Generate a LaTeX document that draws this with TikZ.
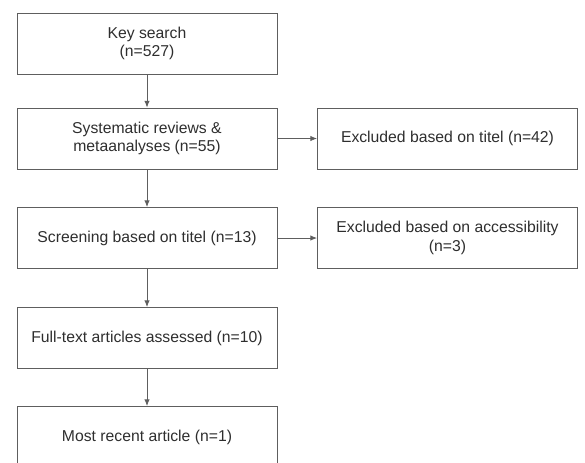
\documentclass[tikz,border=0pt]{standalone}
\usepackage{fontspec}
\setmainfont{Liberation Sans}
\usetikzlibrary{arrows.meta}
\definecolor{boxline}{HTML}{5E5E5E}
\definecolor{boxtext}{HTML}{2E2E2E}

\begin{document}
\begin{tikzpicture}[x=0.75pt,y=-0.75pt,
  box/.style={draw=boxline, line width=0.65pt, text=boxtext, align=center,
    minimum width=195pt, minimum height=45.75pt, inner sep=0pt,
    font=\fontsize{11.8}{14}\selectfont},
  arr/.style={draw=boxline, line width=0.65pt, -{Latex[length=5pt,width=4pt]}}]
  \clip (0,0) rectangle (585,462);

  % main column
  \node[box] (search) at (147,43.5) {Key search\\(n=527)};
  \node[box] (reviews) at (147,138.5) {Systematic reviews \&\\metaanalyses (n=55)};
  \node[box] (screen) at (147,238) {Screening based on titel (n=13)};
  \node[box] (fulltext) at (147,338) {Full-text articles assessed (n=10)};
  \node[box] (recent) at (147,437) {Most recent article (n=1)};

  % exclusions
  \node[box] (extitel) at (447.5,138.5) {Excluded based on titel (n=42)};
  \node[box] (exaccess) at (447.5,238) {Excluded based on accessibility\\(n=3)};

  \draw[arr] (search) -- (reviews);
  \draw[arr] (reviews) -- (screen);
  \draw[arr] (screen) -- (fulltext);
  \draw[arr] (fulltext) -- (recent);
  \draw[arr] (reviews) -- (extitel);
  \draw[arr] (screen) -- (exaccess);
\end{tikzpicture}
\end{document}
